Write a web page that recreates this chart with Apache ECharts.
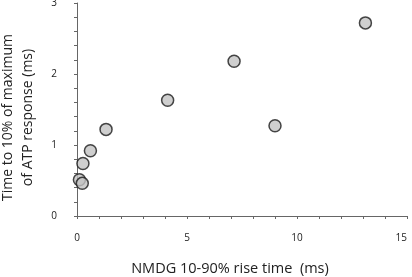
<!DOCTYPE html>
<html>
<head>
<meta charset="utf-8">
<script src="https://cdn.jsdelivr.net/npm/echarts@6/dist/echarts.min.js"></script>
<style>
  html, body { margin: 0; padding: 0; background: #fff; }
  #chart { width: 412px; height: 277px; }
</style>
</head>
<body>
<div id="chart"></div>
<script>
// NMDG rise time (ms) vs time to 10% of max ATP response (ms)
var riseTime = [0.11, 0.24, 0.27, 0.61, 1.32, 4.12, 7.14, 9.0, 13.11];
var timeTo10 = [0.51, 0.46, 0.74, 0.92, 1.22, 1.63, 2.18, 1.27, 2.72];

var points = [];
for (var i = 0; i < riseTime.length; i++) {
  points.push([riseTime[i], timeTo10[i]]);
}

var myChart = echarts.init(document.getElementById('chart'));
var axisColor = '#666';
var fontName = 'Open Sans';

myChart.setOption({
  animation: false,
  backgroundColor: '#fff',
  grid: { left: 77, right: 5, top: 3, bottom: 61, outerBoundsMode: 'none', containLabel: false },
  xAxis: {
    type: 'value',
    min: 0,
    max: 15,
    interval: 5,
    offset: 5,
    name: 'NMDG 10-90% rise time  (ms)',
    nameLocation: 'middle',
    nameGap: 40,
    nameTextStyle: { fontFamily: fontName, fontSize: 14.5, color: '#222', padding: [0, 24, 0, 0] },
    axisLine: { show: true, lineStyle: { color: axisColor, width: 1 } },
    axisTick: { show: true, length: 3, lineStyle: { color: axisColor } },
    minorTick: { show: true, splitNumber: 5, length: 3, lineStyle: { color: axisColor } },
    axisLabel: { fontFamily: fontName, fontSize: 10, color: '#222', margin: 12, alignMaxLabel: 'right' },
    splitLine: { show: false }
  },
  yAxis: {
    type: 'value',
    min: 0,
    max: 3,
    interval: 1,
    offset: 8,
    name: 'Time to 10% of maximum\nof ATP response (ms)',
    nameLocation: 'middle',
    nameGap: 31,
    nameRotate: 90,
    nameTextStyle: { fontFamily: fontName, fontSize: 14, color: '#222', lineHeight: 20, padding: [0, 16, 0, 0] },
    axisLine: { show: true, lineStyle: { color: axisColor, width: 1 } },
    axisTick: { show: true, length: 3, lineStyle: { color: axisColor } },
    minorTick: { show: true, splitNumber: 5, length: 3, lineStyle: { color: axisColor } },
    axisLabel: { fontFamily: fontName, fontSize: 10, color: '#222', margin: 12 },
    splitLine: { show: false }
  },
  series: [{
    type: 'scatter',
    data: points,
    symbol: 'circle',
    symbolSize: 12,
    itemStyle: { color: '#c3c3c3', borderColor: '#1a1a1a', borderWidth: 1.5 }
  }]
});
</script>
</body>
</html>
